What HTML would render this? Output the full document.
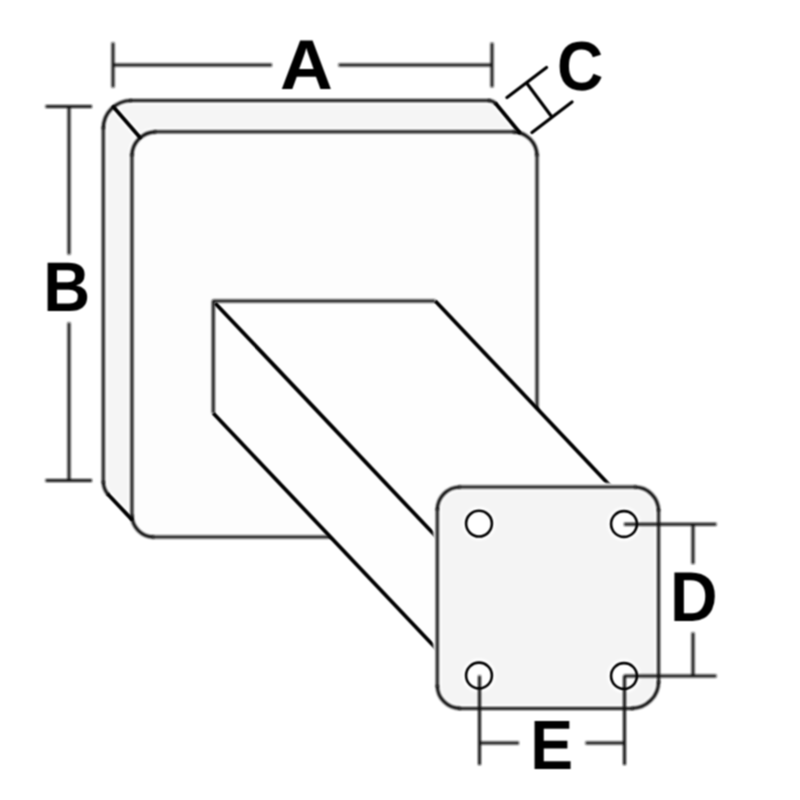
<!DOCTYPE html>
<html><head><meta charset="utf-8"><style>
html,body{margin:0;padding:0;background:#fff;width:800px;height:800px;overflow:hidden}
svg{display:block}
</style></head><body>
<svg width="800" height="800" viewBox="0 0 800 800">
<defs>
  <filter id="soft" filterUnits="userSpaceOnUse" x="0" y="0" width="800" height="800"><feGaussianBlur stdDeviation="0.9"/></filter>
  <filter id="mid" filterUnits="userSpaceOnUse" x="0" y="0" width="800" height="800"><feConvolveMatrix order="3" kernelMatrix="1 2 1 2 4 2 1 2 1" divisor="16" preserveAlpha="false"/></filter>
</defs>
<rect width="800" height="800" fill="#fff"/>

<!-- plate fills -->
<path d="M131.3,100.5 L488.5,100.5 A10,10 0 0 1 496.1,104.0 L519.4,132.3 A24,24 0 0 1 537,155.8 L537,513 A24,24 0 0 1 513,537 L153.7,537 A22,22 0 0 1 131.5,519.1 L108.4,494.8 A20,20 0 0 1 103.3,481.5 L103.3,128.5 A28,28 0 0 1 131.3,100.5 Z" fill="#f5f5f5"/>
<path d="M155.9,131.8 L513.0,131.8 A24,24 0 0 1 537.0,155.8 L537.0,513.0 A24,24 0 0 1 513.0,537.0 L153.9,537.0 A22,22 0 0 1 131.9,515.0 L131.9,155.8 A24,24 0 0 1 155.9,131.8 Z" fill="#fdfdfd"/>
<g filter="url(#soft)" fill="none" stroke="#fff" stroke-width="8">
  <path d="M131.3,100.5 L488.5,100.5 A10,10 0 0 1 496.1,104.0 L519.4,132.3 M108.4,494.8 L131.5,519.1 M108.4,494.8 A20,20 0 0 1 103.3,481.5 L103.3,128.5 A28,28 0 0 1 131.3,100.5 M113.5,107.1 L139.8,137.2"/>
  <path d="M155.9,131.8 L513.0,131.8 A24,24 0 0 1 537.0,155.8 L537.0,513.0 A24,24 0 0 1 513.0,537.0 L153.9,537.0 A22,22 0 0 1 131.9,515.0 L131.9,155.8 A24,24 0 0 1 155.9,131.8 Z"/>
</g>

<g filter="url(#soft)" fill="none" stroke="#111" stroke-width="3.0" stroke-linecap="butt">
  <path d="M113,42.5 V87.5 M492,42.7 V87.3 M113,65.1 H272 M338.5,65.1 H492"/>
  <path d="M45.5,106.6 H92 M45.5,480.6 H92 M69,106.6 V254.5 M69,322.5 V480.6"/>
  <path d="M129.8,100.5 L490,100.5 M103.3,483 L103.3,127"/>
  <path d="M154.4,131.8 L514.5,131.8 M537.0,154.3 L537.0,514.5 M514.5,537.0 L152.4,537.0 M131.9,516.5 L131.9,154.3"/>
</g>
<g filter="url(#soft)" fill="none" stroke-linecap="butt">
  <path stroke="#000" stroke-width="3.2" d="M488.5,100.5 A10,10 0 0 1 496.1,104.0 M108.4,494.8 A20,20 0 0 1 103.3,481.5 M103.3,128.5 A28,28 0 0 1 131.3,100.5 M513.0,131.8 A24,24 0 0 1 537.0,155.8 M153.9,537.0 A22,22 0 0 1 131.9,515.0 M131.9,155.8 A24,24 0 0 1 155.9,131.8"/>
</g>
<g filter="url(#mid)" fill="none" stroke-linecap="round" stroke-linejoin="round">
  <path stroke="#000" stroke-width="3.2" d="M507,97.5 L546.5,67.5 M532,132.5 L572,102 M527,83.5 L551.5,116.5"/>
  <path stroke="#000" stroke-width="3.8" d="M496.1,104.0 L519.4,132.3 M108.4,494.8 L131.5,519.1 M113.5,107.1 L139.8,137.2"/>
</g>

<!-- Tube -->
<path d="M213.3,301 L435.3,301 L611.2,487 L437.3,649.8 L213.3,413.3 Z" fill="#fefefe"/>
<path filter="url(#soft)" fill="none" stroke="#111" stroke-width="3.0" stroke-linejoin="round" d="M213.3,413.3 L213.3,301 L435.3,301"/>
<path filter="url(#mid)" fill="none" stroke="#000" stroke-width="3.8" d="M435.3,301 L611.2,487 M213.3,413.3 L437.3,649.8 M215.2,303.2 L437.3,537.8"/>

<!-- Small plate -->
<path d="M460.3,487.0 L634.6,487.0 A24,24 0 0 1 658.6,511.0 L658.6,681.4 A27,27 0 0 1 631.6,708.4 L460.3,708.4 A23,23 0 0 1 437.3,685.4 L437.3,510.0 A23,23 0 0 1 460.3,487.0 Z" fill="#f4f4f4"/>
<g fill="#fff"><circle cx="479" cy="523.6" r="12.9"/><circle cx="624" cy="524" r="12.9"/><circle cx="479" cy="675.5" r="12.9"/><circle cx="624" cy="676" r="12.9"/></g>
<g filter="url(#soft)" fill="none" stroke="#fff" stroke-width="8">
  <path d="M460.3,487.0 L634.6,487.0 A24,24 0 0 1 658.6,511.0 L658.6,681.4 A27,27 0 0 1 631.6,708.4 L460.3,708.4 A23,23 0 0 1 437.3,685.4 L437.3,510.0 A23,23 0 0 1 460.3,487.0 Z"/>
  <circle cx="479" cy="523.6" r="12.9"/><circle cx="624" cy="524" r="12.9"/><circle cx="479" cy="675.5" r="12.9"/><circle cx="624" cy="676" r="12.9"/>
</g>
<g filter="url(#soft)" fill="none" stroke="#111" stroke-width="3.0">
  <path d="M458.8,487.0 L636.1,487.0 M658.6,509.5 L658.6,682.9 M633.1,708.4 L458.8,708.4 M437.3,686.9 L437.3,508.5"/>
  <path d="M624,524.2 H716.5 M624,676 H716.5 M693,524.2 V564 M693,632.5 V676"/>
  <path d="M479.5,675.5 V765 M624.5,675.5 V765 M479.5,743 H519 M585.5,743 H624.5"/>
</g>
<g filter="url(#soft)" fill="none" stroke="#000" stroke-width="3.2" stroke-linecap="butt">
  <path d="M634.6,487.0 A24,24 0 0 1 658.6,511.0 M658.6,681.4 A27,27 0 0 1 631.6,708.4 M460.3,708.4 A23,23 0 0 1 437.3,685.4 M437.3,510.0 A23,23 0 0 1 460.3,487.0"/>
</g>
<g filter="url(#mid)" fill="none" stroke="#000" stroke-width="2.6"><circle cx="479" cy="523.6" r="12.9"/><circle cx="624" cy="524" r="12.9"/><circle cx="479" cy="675.5" r="12.9"/><circle cx="624" cy="676" r="12.9"/></g>

<!-- Letters -->
<g font-family="'Liberation Sans', sans-serif" font-weight="bold" font-size="70" fill="#000" filter="url(#mid)" text-rendering="geometricPrecision">
  <text transform="translate(280.1,88.5) scale(1.044,1.005)">A</text>
  <text transform="translate(43.33,311.5) scale(0.9276,1.004)">B</text>
  <text transform="translate(556.99,89.7) scale(0.916,0.991)">C</text>
  <text transform="translate(669.88,621.0) scale(0.9417,1.0086)">D</text>
  <text transform="translate(530.18,769) scale(0.918,0.9966)">E</text>
</g>
</svg>
</body></html>
